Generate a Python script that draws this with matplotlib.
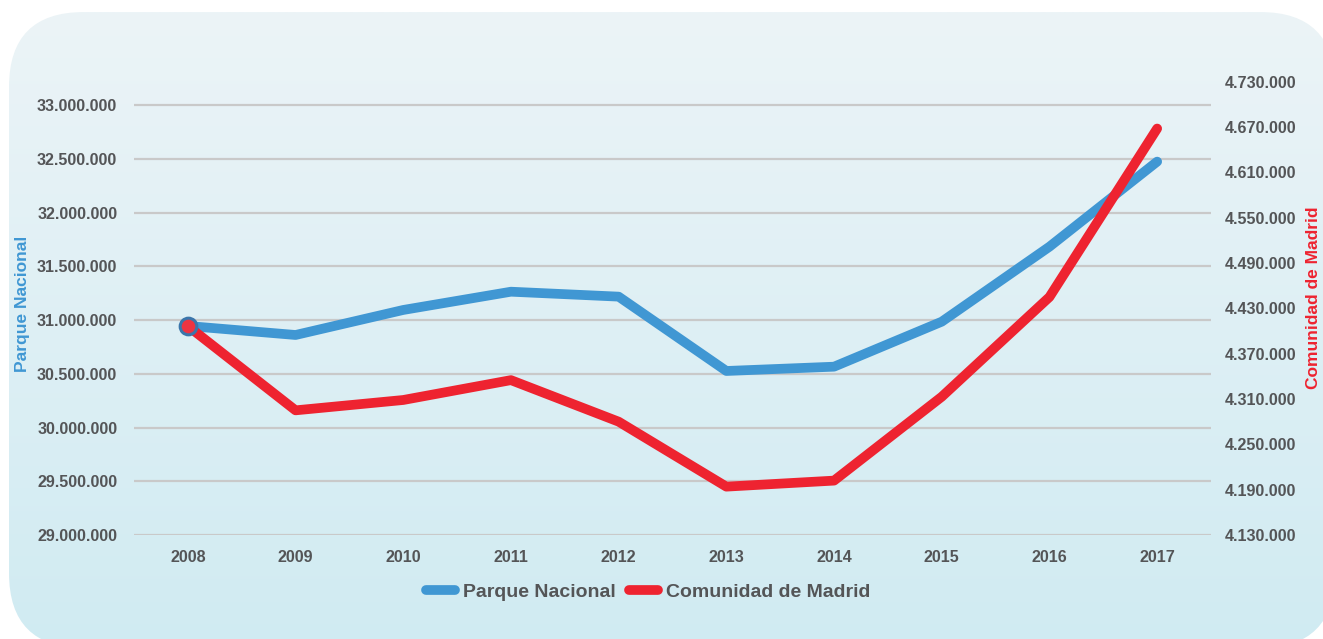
import numpy as np
import matplotlib
matplotlib.use("Agg")
import matplotlib.pyplot as plt
from matplotlib.patches import FancyBboxPatch
from matplotlib.ticker import FuncFormatter

# Datos
years = ["2008", "2009", "2010", "2011", "2012", "2013", "2014", "2015", "2016", "2017"]
parque_nacional = [30946000, 30862000, 31095000, 31265000, 31219000,
                   30527000, 30567000, 30986000, 31684000, 32476000]
comunidad_madrid = [4406600, 4295000, 4308700, 4335000, 4280000,
                    4194000, 4202000, 4313000, 4445000, 4668000]

BLUE = "#4097d3"
RED = "#ee2330"
TEXT = "#545557"
GRID = "#c9c9c9"

plt.rcParams["font.family"] = ["Liberation Sans", "DejaVu Sans"]
plt.rcParams["font.weight"] = "bold"

W, H = 1323, 639
fig = plt.figure(figsize=(W / 100, H / 100), dpi=100)

# Fondo: rectangulo redondeado con degradado
bg = fig.add_axes([0, 0, 1, 1], zorder=-10)
bg.set_xlim(0, W)
bg.set_ylim(H, 0)
bg.axis("off")
top_c = np.array([0xec, 0xf4, 0xf7]) / 255
bot_c = np.array([0xd0, 0xeb, 0xf2]) / 255
t = np.linspace(0, 1, 256)[:, None, None]
grad = np.repeat(top_c * (1 - t) + bot_c * t, 2, axis=1)
img = bg.imshow(grad, extent=(9, 1335, 648, 12), aspect="auto", interpolation="bilinear")
box = FancyBboxPatch((9, 12), 1326, 636, boxstyle="round,pad=0,rounding_size=75",
                     facecolor="none", edgecolor="none", transform=bg.transData)
bg.add_patch(box)
img.set_clip_path(box)

ax = fig.add_axes([134 / W, (H - 535) / H, 1077 / W, (535 - 81.7) / H])
ax.set_facecolor("none")
ax2 = ax.twinx()

x = np.arange(len(years))
ax.plot(x, parque_nacional, color=BLUE, lw=7, solid_capstyle="round",
        solid_joinstyle="round", label="Parque Nacional", zorder=3)
ax2.plot(x, comunidad_madrid, color=RED, lw=7, solid_capstyle="round",
         solid_joinstyle="round", label="Comunidad de Madrid", zorder=3)
ax2.plot(x[:1], comunidad_madrid[:1], "o", ms=12, mfc="#ee3442", mec="#3b76ab", mew=2.2, zorder=4)

ax.set_xlim(-0.5, len(years) - 0.5)
ax.set_ylim(29000000, 33220000)
ax2.set_ylim(4130000, 4730000)
ax.set_yticks(np.arange(29000000, 33000001, 500000))
ax2.set_yticks(np.arange(4130000, 4730001, 60000))

fmt = FuncFormatter(lambda v, p: f"{int(round(v)):,}".replace(",", "."))
ax.yaxis.set_major_formatter(fmt)
ax2.yaxis.set_major_formatter(fmt)
ax.set_xticks(x)
ax.set_xticklabels(years)

ax.grid(axis="y", color=GRID, lw=1.6)
ax.set_axisbelow(True)
for a in (ax, ax2):
    for s in a.spines.values():
        s.set_visible(False)
ax.tick_params(axis="y", length=0, pad=12, labelsize=11.6, labelcolor=TEXT)
ax.tick_params(axis="x", length=0, pad=11, labelsize=11.6, labelcolor=TEXT)
ax2.tick_params(axis="y", length=0, pad=10, labelsize=11.6, labelcolor=TEXT)

ax.set_ylabel("Parque Nacional", color=BLUE, fontsize=12.5, fontweight="bold")
ax2.set_ylabel("Comunidad de Madrid", color=RED, fontsize=12.5, fontweight="bold", rotation=90)
ax.yaxis.set_label_coords(-0.0966, 0.51)
ax2.yaxis.set_label_coords(1.0882, 0.523)

h1, l1 = ax.get_legend_handles_labels()
h2, l2 = ax2.get_legend_handles_labels()
leg = fig.legend(h1 + h2, l1 + l2, loc="center", bbox_to_anchor=(648 / W, 1 - 592 / H),
                 ncol=2, frameon=False, fontsize=14, handlelength=1.5,
                 handletextpad=0.4, columnspacing=0.7)
for txt in leg.get_texts():
    txt.set_color(TEXT)
for ln in leg.get_lines():
    ln.set_linewidth(7)

fig.savefig("out.png", dpi=100)
